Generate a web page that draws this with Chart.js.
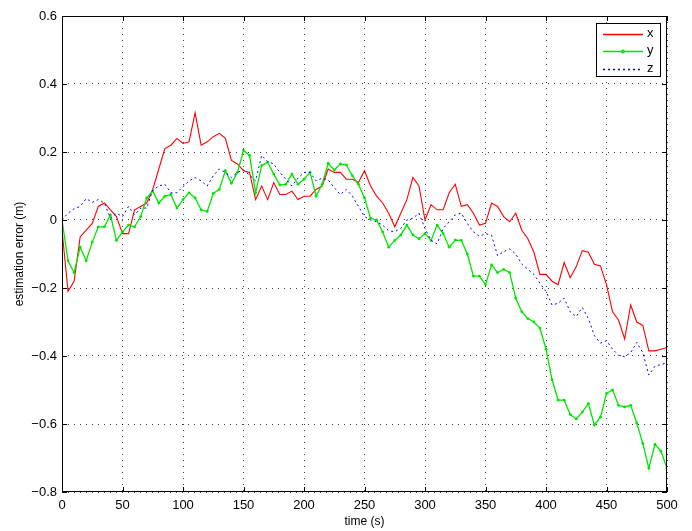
<!DOCTYPE html>
<html>
<head>
<meta charset="utf-8">
<script src="https://cdn.jsdelivr.net/npm/chart.js@4.4.0/dist/chart.umd.min.js"></script>
<style>
  html, body { margin: 0; padding: 0; background: #fff; }
  canvas { display: block; }
</style>
</head>
<body>
<canvas id="chart" width="692" height="531"></canvas>
<script>
// time axis (s), one sample every 5 s
const times = [0, 5, 10, 15, 20, 25, 30, 35, 40, 45, 50, 55, 60, 65, 70, 75, 80, 85, 90, 95,
  100, 105, 110, 115, 120, 125, 130, 135, 140, 145, 150, 155, 160, 165, 170, 175, 180, 185, 190, 195,
  200, 205, 210, 215, 220, 225, 230, 235, 240, 245, 250, 255, 260, 265, 270, 275, 280, 285, 290, 295,
  300, 305, 310, 315, 320, 325, 330, 335, 340, 345, 350, 355, 360, 365, 370, 375, 380, 385, 390, 395,
  400, 405, 410, 415, 420, 425, 430, 435, 440, 445, 450, 455, 460, 465, 470, 475, 480, 485, 490, 495, 500];

const xErr = [-0.03, -0.21, -0.18, -0.05, -0.03, -0.01, 0.04, 0.05, 0.03, 0.01,
  -0.04, -0.04, 0.03, 0.04, 0.05, 0.09, 0.15, 0.21, 0.22, 0.24,
  0.225, 0.23, 0.315, 0.22, 0.23, 0.245, 0.255, 0.24, 0.175, 0.165,
  0.145, 0.14, 0.06, 0.10, 0.06, 0.11, 0.075, 0.075, 0.085, 0.06,
  0.07, 0.07, 0.09, 0.10, 0.15, 0.14, 0.14, 0.12, 0.12, 0.11,
  0.145, 0.10, 0.07, 0.05, 0.02, -0.02, 0.02, 0.06, 0.125, 0.10,
  0.0, 0.045, 0.03, 0.03, 0.08, 0.105, 0.04, 0.045, 0.02, -0.015,
  -0.01, 0.05, 0.04, 0.01, -0.005, 0.02, -0.03, -0.055, -0.095, -0.16,
  -0.16, -0.18, -0.19, -0.125, -0.17, -0.137, -0.09, -0.095, -0.13, -0.135,
  -0.19, -0.27, -0.295, -0.35, -0.25, -0.30, -0.31, -0.385, -0.385, -0.38, -0.375];

const yErr = [0.0, -0.12, -0.155, -0.08, -0.12, -0.065, -0.02, -0.02, 0.015, -0.06,
  -0.035, -0.015, -0.02, 0.01, 0.065, 0.085, 0.05, 0.07, 0.075, 0.035,
  0.06, 0.08, 0.065, 0.03, 0.025, 0.078, 0.09, 0.145, 0.108, 0.14,
  0.205, 0.19, 0.08, 0.16, 0.17, 0.135, 0.103, 0.105, 0.135, 0.105,
  0.12, 0.14, 0.07, 0.105, 0.167, 0.147, 0.165, 0.162, 0.13, 0.105,
  0.065, 0.005, 0.0, -0.035, -0.08, -0.06, -0.044, -0.015, -0.044, -0.055,
  -0.04, -0.06, -0.015, -0.04, -0.08, -0.059, -0.06, -0.10, -0.165, -0.165,
  -0.19, -0.132, -0.155, -0.145, -0.155, -0.23, -0.27, -0.29, -0.30, -0.318,
  -0.38, -0.47, -0.53, -0.53, -0.572, -0.585, -0.565, -0.54, -0.603, -0.58,
  -0.51, -0.50, -0.545, -0.55, -0.545, -0.597, -0.657, -0.73, -0.66, -0.68, -0.73];

const zErr = [0.0, 0.02, 0.033, 0.04, 0.063, 0.052, 0.06, 0.05, 0.005, 0.02,
  0.01, 0.04, 0.015, 0.035, 0.035, 0.088, 0.10, 0.105, 0.08, 0.08,
  0.098, 0.115, 0.125, 0.115, 0.10, 0.13, 0.15, 0.14, 0.125, 0.14,
  0.147, 0.132, 0.115, 0.19, 0.172, 0.165, 0.14, 0.12, 0.10, 0.123,
  0.14, 0.14, 0.115, 0.123, 0.118, 0.095, 0.075, 0.09, 0.07, 0.04,
  0.01, 0.0, -0.005, -0.015, -0.032, -0.034, -0.025, 0.0, 0.005, 0.02,
  -0.025, -0.06, -0.07, -0.025, -0.005, 0.015, 0.02, -0.01, -0.035, -0.048,
  -0.04, -0.045, -0.105, -0.093, -0.085, -0.10, -0.13, -0.145, -0.16, -0.186,
  -0.21, -0.25, -0.245, -0.23, -0.27, -0.284, -0.257, -0.29, -0.34, -0.362,
  -0.355, -0.38, -0.398, -0.402, -0.39, -0.36, -0.39, -0.456, -0.43, -0.425, -0.42];

const xTicks = [0, 50, 100, 150, 200, 250, 300, 350, 400, 450, 500];
const yTicks = [-0.8, -0.6, -0.4, -0.2, 0, 0.2, 0.4, 0.6];
const seriesNames = ['x', 'y', 'z'];
const seriesColors = ['#ff0000', '#00e600', '#0000ff'];

const FONT = '"Liberation Sans", Arial, Helvetica, sans-serif';

function pts(ys) {
  return times.map((t, i) => ({ x: t, y: ys[i] }));
}

// MATLAB-like box, inward ticks and legend
const boxPlugin = {
  id: 'box',
  afterDraw(chart) {
    const { ctx, chartArea: a, scales } = chart;
    ctx.save();
    ctx.strokeStyle = '#000';
    ctx.lineWidth = 1;
    ctx.strokeRect(a.left + 0.5, a.top + 0.5, a.right - a.left - 1, a.bottom - a.top - 1);

    ctx.beginPath();
    xTicks.forEach(v => {
      const px = Math.round(scales.x.getPixelForValue(v)) + 0.5;
      ctx.moveTo(px, a.bottom); ctx.lineTo(px, a.bottom - 5);
      ctx.moveTo(px, a.top); ctx.lineTo(px, a.top + 5);
    });
    yTicks.forEach(v => {
      const py = Math.round(scales.y.getPixelForValue(v)) + 0.5;
      ctx.moveTo(a.left, py); ctx.lineTo(a.left + 5, py);
      ctx.moveTo(a.right, py); ctx.lineTo(a.right - 5, py);
    });
    ctx.stroke();

    // legend box
    const lx = 596, ly = 23, lw = 64, lh = 53;
    ctx.fillStyle = '#fff';
    ctx.fillRect(lx, ly, lw, lh);
    ctx.strokeStyle = '#000';
    ctx.strokeRect(lx + 0.5, ly + 0.5, lw, lh);
    const rows = [34, 51, 69];
    const dashes = [[], [], [2, 3]];
    seriesNames.forEach((name, i) => {
      const y = rows[i] + 0.5;
      ctx.save();
      ctx.strokeStyle = seriesColors[i];
      ctx.lineWidth = 1.3;
      ctx.setLineDash(dashes[i]);
      ctx.beginPath();
      ctx.moveTo(603, y); ctx.lineTo(643, y);
      ctx.stroke();
      if (i === 1) {
        ctx.fillStyle = seriesColors[i];
        ctx.beginPath();
        ctx.arc(623, y, 2, 0, Math.PI * 2);
        ctx.fill();
      }
      ctx.restore();
      ctx.fillStyle = '#000';
      ctx.font = '13px ' + FONT;
      ctx.textBaseline = 'middle';
      ctx.fillText(name, 647, rows[i] - 1);
    });
    ctx.restore();
  }
};

new Chart(document.getElementById('chart'), {
  type: 'line',
  data: {
    datasets: [
      { label: seriesNames[0], data: pts(xErr), borderColor: seriesColors[0], borderWidth: 1.1,
        pointRadius: 0, tension: 0, order: 2 },
      { label: seriesNames[1], data: pts(yErr), borderColor: seriesColors[1], backgroundColor: seriesColors[1],
        borderWidth: 1.3, pointRadius: 1.4, pointBorderWidth: 0, tension: 0, order: 1 },
      { label: seriesNames[2], data: pts(zErr), borderColor: seriesColors[2], borderWidth: 1,
        borderDash: [2, 3], pointRadius: 0, tension: 0, order: 0 }
    ]
  },
  options: {
    responsive: false,
    animation: false,
    layout: { padding: { top: 16, right: 25, left: 0, bottom: 0 } },
    plugins: { legend: { display: false }, tooltip: { enabled: false } },
    scales: {
      x: {
        type: 'linear', min: 0, max: 500,
        afterBuildTicks: s => { s.ticks = xTicks.map(v => ({ value: v })); },
        afterFit: s => { s.height = 39; },
        grid: { color: 'rgba(0,0,0,0.75)', lineWidth: 1, drawTicks: false },
        border: { display: false, dash: [1, 5] },
        ticks: { color: '#000', padding: 6, maxRotation: 0, font: { family: FONT, size: 13 } },
        title: { display: true, text: 'time (s)', color: '#000',
          font: { family: FONT, size: 12 }, padding: { top: 0, bottom: 2 } }
      },
      y: {
        type: 'linear', min: -0.8, max: 0.6,
        afterBuildTicks: s => { s.ticks = yTicks.map(v => ({ value: v })); },
        afterFit: s => { s.width = 62; },
        grid: { color: 'rgba(0,0,0,0.75)', lineWidth: 1, drawTicks: false },
        border: { display: false, dash: [1, 5] },
        ticks: { color: '#000', padding: 5, font: { family: FONT, size: 13 },
          callback: v => v === 0 ? '0' : (v < 0 ? '\u2212' : '') + Math.abs(v).toFixed(1) },
        title: { display: true, text: 'estimation error (m)', color: '#000',
          font: { family: FONT, size: 12 }, padding: { top: 12, bottom: 0 } }
      }
    }
  },
  plugins: [boxPlugin]
});
</script>
</body>
</html>
